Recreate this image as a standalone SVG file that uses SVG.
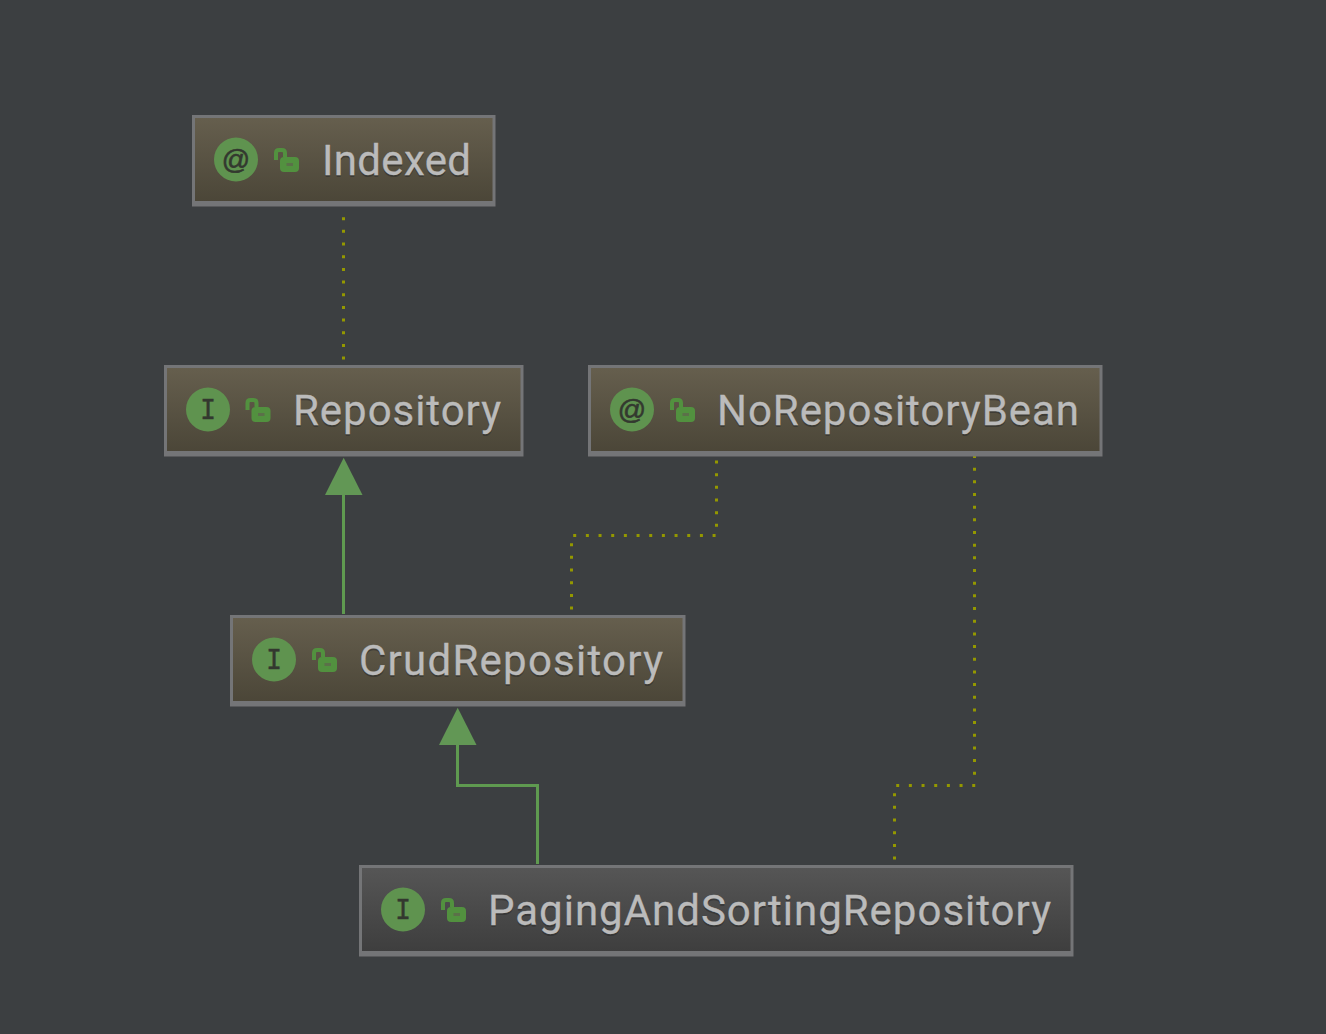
<svg xmlns="http://www.w3.org/2000/svg" width="1326" height="1034" viewBox="0 0 1326 1034">
<style>
.box{stroke:#747577;stroke-width:3}
.base{fill:#747577}
.t{font-family:"Roboto","Liberation Sans",sans-serif;font-size:42px;fill:#bbbbbb;stroke:#bbbbbb;stroke-width:.3}
.s{font-family:"Roboto","Liberation Sans",sans-serif;font-size:42px;fill:#2b2b2b;opacity:.55}
.g{font-family:"DejaVu Sans Mono",monospace;font-size:26px;fill:#33382f;stroke:#33382f;stroke-width:.4;text-anchor:middle}
.a{font-family:"Liberation Sans",sans-serif;font-size:28px;fill:#33382f;stroke:#33382f;stroke-width:.6;text-anchor:middle}
.c{fill:#5f934f}
.lock{fill:none;stroke:#52913f;stroke-width:4}
.body{fill:#52913f}
.hole{fill:#5b7049}
.dot{fill:none;stroke:#949800;stroke-width:3;stroke-dasharray:3 9.67}
.inh{fill:none;stroke:#5f9a50;stroke-width:3}
.tri{fill:#629755}
</style>
<defs>
<linearGradient id="gold" x1="0" y1="0" x2="0" y2="1"><stop offset="0" stop-color="#665f4e"/><stop offset="1" stop-color="#4a4537"/></linearGradient>
<linearGradient id="grey" x1="0" y1="0" x2="0" y2="1"><stop offset="0" stop-color="#565656"/><stop offset="1" stop-color="#3d3d3d"/></linearGradient>
<g id="lk"><path class="lock" d="M2 13V6Q2 3 5 3H8Q11 3 11 6V10"/><rect class="body" x="6" y="10" width="19" height="15" rx="4"/><rect class="hole" x="12.500" y="16" width="6.500" height="3"/></g>
</defs>
<rect width="1326" height="1034" fill="#3c3f41"/>
<g id="connectors">
<path class="dot" d="M343.500 217.200V360"/>
<path class="dot" d="M716.500 460.500V528"/>
<path class="dot" d="M573.200 535.500H716"/>
<path class="dot" d="M571.500 543.200V610"/>
<path class="dot" d="M974.500 455V775"/>
<path class="dot" d="M896.200 785.500H976"/>
<path class="dot" d="M894.500 793.200V860"/>
<path class="inh" d="M343.500 614V490"/>
<path class="tri" d="M343.700 457.700L362.500 495H325Z"/>
<path class="inh" d="M537.500 864V785.500H457.500V740"/>
<path class="tri" d="M457.700 707.700L476.500 745H439Z"/>
</g>
<g id="indexed">
<rect class="box" x="193.500" y="116.500" width="300.500" height="88.500" fill="url(#gold)"/><rect class="base" x="193" y="201" width="302" height="5"/>
<circle class="c" cx="236" cy="159.500" r="22"/><text class="a" x="236" y="169">@</text>
<use href="#lk" x="274" y="147"/>
<text class="s" x="322" y="177" textLength="149">Indexed</text><text class="t" x="322" y="175" textLength="149">Indexed</text>
</g>
<g id="repository">
<rect class="box" x="165.500" y="366.500" width="356.500" height="88.500" fill="url(#gold)"/><rect class="base" x="165" y="451" width="358" height="5"/>
<circle class="c" cx="208" cy="409.500" r="22"/><text class="g" x="208" y="419">I</text>
<use href="#lk" x="245.500" y="397"/>
<text class="s" x="293" y="427" textLength="208">Repository</text><text class="t" x="293" y="425" textLength="208">Repository</text>
</g>
<g id="norepositorybean">
<rect class="box" x="589.500" y="366.500" width="511.500" height="88.500" fill="url(#gold)"/><rect class="base" x="589" y="451" width="513" height="5"/>
<circle class="c" cx="632" cy="409.500" r="22"/><text class="a" x="632" y="419">@</text>
<use href="#lk" x="670" y="397"/>
<text class="s" x="717" y="427" textLength="362">NoRepositoryBean</text><text class="t" x="717" y="425" textLength="362">NoRepositoryBean</text>
</g>
<g id="crudrepository">
<rect class="box" x="231.500" y="616.500" width="452.500" height="88.500" fill="url(#gold)"/><rect class="base" x="231" y="701" width="454" height="5"/>
<circle class="c" cx="274" cy="659.500" r="22"/><text class="g" x="274" y="669">I</text>
<use href="#lk" x="312" y="647"/>
<text class="s" x="359" y="677" textLength="304">CrudRepository</text><text class="t" x="359" y="675" textLength="304">CrudRepository</text>
</g>
<g id="pagingandsortingrepository">
<rect class="box" x="360.500" y="866.500" width="711.500" height="88.500" fill="url(#grey)"/><rect class="base" x="360" y="951" width="713" height="5"/>
<circle class="c" cx="403" cy="909.500" r="22"/><text class="g" x="403" y="919">I</text>
<use href="#lk" x="441" y="897"/>
<text class="s" x="488" y="927" textLength="563">PagingAndSortingRepository</text><text class="t" x="488" y="925" textLength="563">PagingAndSortingRepository</text>
</g>
</svg>
